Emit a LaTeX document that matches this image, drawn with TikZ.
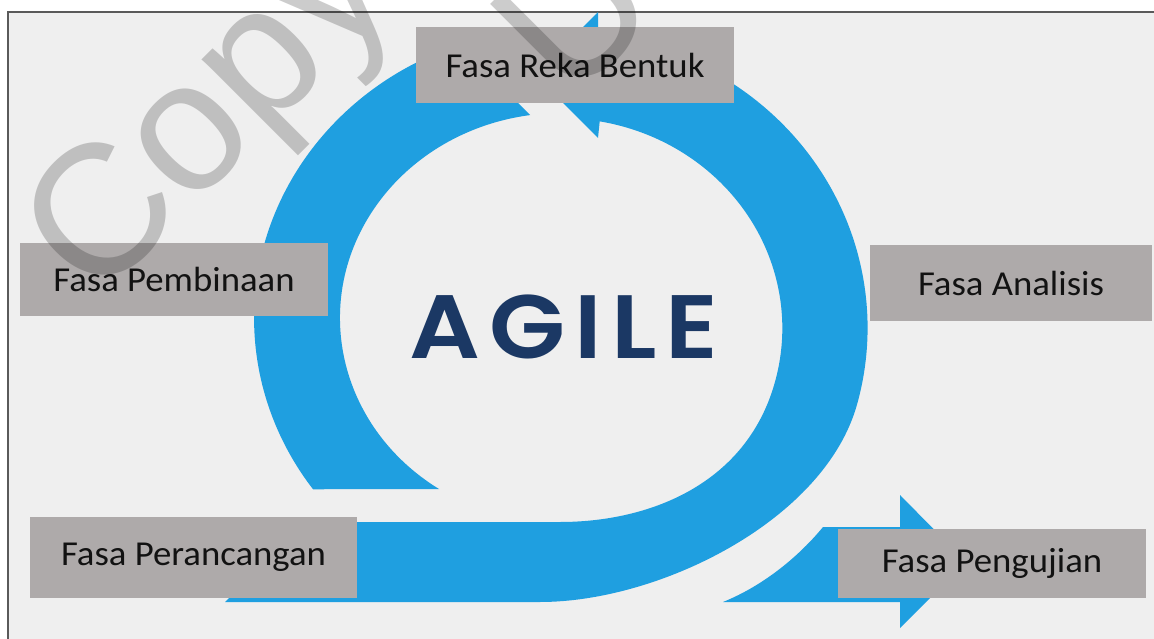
\documentclass[tikz,border=0pt]{standalone}
\usepackage{fontspec}
\setmainfont{Carlito}
\newfontfamily\agilefont{Poppins SemiBold}[LetterSpace=9]
\newfontfamily\wmfont{Liberation Sans}
\definecolor{bgcol}{HTML}{EFEFEF}
\definecolor{framecol}{HTML}{5A5A5A}
\definecolor{agileblue}{HTML}{1F9FE0}
\definecolor{boxcol}{HTML}{AEAAAA}
\definecolor{navy}{HTML}{1B3864}
\begin{document}
\begin{tikzpicture}[x=1pt,y=-1pt,
  phase/.style={fill=boxcol, draw=none, inner sep=0pt, text=black!93,
    font=\fontsize{35}{40}\selectfont},
  bluepart/.style={fill=agileblue, draw=none},
  wmark/.style={rotate=45, anchor=base west, inner sep=0pt, text=black, text opacity=0.2,
    font=\wmfont\fontsize{185}{185}\selectfont}]
\useasboundingbox (0,0) rectangle (1154,639);
\clip (0,0) rectangle (1154,639);
\fill[white] (0,0) rectangle (1154,639);
% frame
\draw[framecol, line width=1.5pt, fill=bgcol] (8,12) rectangle (1170,660);
% main loop: bottom band, right arc and arrowhead
\fill[bluepart] (598,35)
  arc[start angle=-83, end angle=15, x radius=307, y radius=295]
  .. controls (825,520) and (660,602) .. (540,602)
  -- (225,602) -- (305,522) -- (560,522)
  .. controls (645,522) and (735,488) .. (769,400)
  arc[start angle=20, end angle=-80, x radius=221, y radius=210]
  -- (598,138) -- (535,75) -- (598,12) -- cycle;
% left arc with notched tail
\fill[bluepart] (529,30)
  arc[start angle=-96, end angle=-216.1, x radius=307, y radius=290]
  -- (439,489)
  arc[start angle=123.5, end angle=262, x radius=221, y radius=205]
  -- (487,72) -- cycle;
% exit arrow
\fill[bluepart] (723,602) .. controls (765,585) and (800,555) .. (823,527)
  -- (900,527) -- (900,495) -- (966,562) -- (900,628) -- (900,602) -- cycle;
% phase boxes
\node[phase, minimum width=318pt, minimum height=76pt] (reka) at (575,65) {\scalebox{1.05}[1]{Fasa Reka Bentuk}};
\node[phase, minimum width=308pt, minimum height=73pt] (pemb) at (174,279.5) {\scalebox{1.05}[1]{Fasa Pembinaan}};
\node[phase, minimum width=282pt, minimum height=76pt] (anal) at (1011,283) {\scalebox{1.05}[1]{Fasa Analisis}};
\node[phase, minimum width=327pt, minimum height=81pt] (peran) at (193.5,557.5) {\scalebox{1.05}[1]{Fasa Perancangan}};
\node[phase, minimum width=308pt, minimum height=69pt] (peng) at (992,563.5) {\scalebox{1.05}[1]{Fasa Pengujian}};
% title
\node[inner sep=0pt, text=navy, font=\agilefont\fontsize{90}{90}\selectfont] (agile) at (564,327) {\scalebox{1.1}[1]{AGILE}};
% watermark
\node[wmark] (wm1) at (95,305) {Copyright};
\node[wmark] (wm2) at (570,105) {U};
\end{tikzpicture}
\end{document}
